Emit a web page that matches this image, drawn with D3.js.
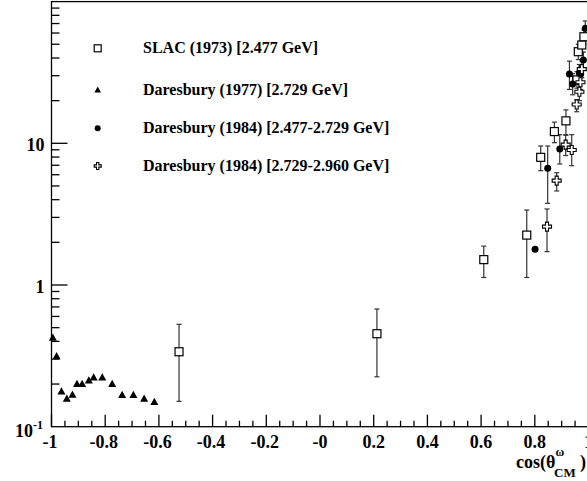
<!DOCTYPE html>
<html><head><meta charset="utf-8">
<script src="https://cdn.jsdelivr.net/npm/d3@7"></script>
<style>body{margin:0;background:#fff}svg{display:block}</style>
</head><body>
<svg id="c" width="587" height="481"></svg>
<script>
// [cos, value, low, high]
const slac1973 = [
  [-0.525, 0.338, 0.151, 0.528],
  [0.212, 0.453, 0.225, 0.677],
  [0.610, 1.51, 1.13, 1.88],
  [0.770, 2.25, 1.13, 3.38],
  [0.822, 7.96, 6.41, 9.57],
  [0.873, 12.1, 10.1, 14.1],
  [0.916, 14.4, 11.4, 17.2],
  [0.957, 28.0, 24.5, 32.0],
  [0.962, 44.3, 39.0, 50.0],
  [0.975, 49.4, 44.0, 56.0],
  [0.983, 56.5, 50.0, 63.0]
];
const daresbury1977 = [
  [-0.995, 0.428], [-0.981, 0.317], [-0.963, 0.179], [-0.943, 0.159],
  [-0.922, 0.170], [-0.905, 0.202], [-0.886, 0.202], [-0.861, 0.214],
  [-0.843, 0.225], [-0.811, 0.225], [-0.774, 0.202], [-0.737, 0.169],
  [-0.695, 0.169], [-0.655, 0.159], [-0.617, 0.151]
];
const daresbury1984a = [
  [0.801, 1.79, null, null],
  [0.848, 6.66, 3.77, 9.57],
  [0.893, 9.12, 7.14, 11.5],
  [0.929, 30.8, 24.0, 38.0],
  [0.941, 26.2, 22.0, 31.0],
  [0.966, 31.5, 27.0, 36.0],
  [0.971, 30.8, 27.0, 35.0],
  [0.981, 38.7, 34.0, 44.0],
  [0.988, 64.8, 57.0, 73.0]
];
const daresbury1984b = [
  [0.8455, 2.58, 1.72, 3.44],
  [0.8815, 5.45, 4.61, 6.20],
  [0.915, 9.78, 8.20, 11.5],
  [0.9375, 8.97, 6.95, 11.5],
  [0.956, 18.8, 16.7, 20.3],
  [0.966, 23.1, 20.0, 26.0],
  [0.970, 27.0, 24.0, 31.0],
  [0.975, 33.4, 29.0, 38.0]
];
const legendLabels = [
  "SLAC (1973) [2.477 GeV]",
  "Daresbury (1977) [2.729 GeV]",
  "Daresbury (1984) [2.477-2.729 GeV]",
  "Daresbury (1984) [2.729-2.960 GeV]"
];
const xTickValues = [-1, -0.8, -0.6, -0.4, -0.2, 0, 0.2, 0.4, 0.6, 0.8, 1];
const xTickLabels = ["-1", "-0.8", "-0.6", "-0.4", "-0.2", "-0", "0.2", "0.4", "0.6", "0.8", "1"];

const svg = d3.select("#c");
const FONT = "'Liberation Serif', 'Times New Roman', serif";
const L = 51.5, R = 588.5, T = 1.6, B = 426.7;
const x = d3.scaleLinear().domain([-1, 1]).range([L, R]);
const y = d3.scaleLog().domain([0.1, 100]).range([B, T]);

// frame
svg.append("rect").attr("x", L).attr("y", T).attr("width", R - L).attr("height", B - T)
  .attr("fill", "none").attr("stroke", "#000").attr("stroke-width", 1.3);

// x ticks (inward)
const xMinor = d3.range(-1, 1.0001, 0.05).map(v => +v.toFixed(2));
const gx = svg.append("g");
xMinor.forEach(v => {
  const major = Math.abs(v * 5 - Math.round(v * 5)) < 1e-6;
  gx.append("line").attr("x1", x(v)).attr("x2", x(v)).attr("y1", B).attr("y2", B - (major ? 12 : 6))
    .attr("stroke", "#000").attr("stroke-width", 1.3);
});
xTickValues.forEach((v, i) => {
  svg.append("text").attr("x", x(v) - (v < 0 ? 1.5 : 0)).attr("y", 447.5).attr("text-anchor", "middle")
    .attr("font-family", FONT).attr("font-weight", "bold").attr("font-size", 18)
    .text(xTickLabels[i]);
});

// y ticks (inward)
const gy = svg.append("g");
[0.1, 1, 10].forEach(dec => {
  for (let k = 1; k <= 9; k++) {
    const v = dec * k;
    if (v <= 0.1 + 1e-9) continue;
    const major = k === 1;
    gy.append("line").attr("x1", L).attr("x2", L + (major ? 16 : 8)).attr("y1", y(v)).attr("y2", y(v))
      .attr("stroke", "#000").attr("stroke-width", 1.3);
  }
});
const yl = (v, txt, dx, dy) => svg.append("text").attr("x", dx).attr("y", y(v) + dy)
  .attr("text-anchor", "end").attr("font-family", FONT).attr("font-weight", "bold").attr("font-size", 18).text(txt);
yl(10, "10", 44.5, 7.5);
yl(1, "1", 44.5, 7.5);
const t01 = svg.append("text").attr("x", 43).attr("y", y(0.1) + 10).attr("text-anchor", "end")
  .attr("font-family", FONT).attr("font-weight", "bold").attr("font-size", 18);
t01.append("tspan").text("10");
t01.append("tspan").attr("font-size", 12).attr("dy", -8).text("-1");

// axis title
const tfont = sel => sel.attr("font-family", FONT).attr("font-weight", "bold");
tfont(svg.append("text").attr("x", 516).attr("y", 468).attr("font-size", 18)).text("cos(θ");
tfont(svg.append("text").attr("x", 555.5).attr("y", 456).attr("font-size", 12)).text("ω");
tfont(svg.append("text").attr("x", 554).attr("y", 477).attr("font-size", 13)).text("CM");
tfont(svg.append("text").attr("x", 580).attr("y", 468).attr("font-size", 18)).text(")");

// markers
function marker(g, type, cx, cy, s) {
  if (type === "square") {
    g.append("rect").attr("x", cx - s / 2).attr("y", cy - s / 2).attr("width", s).attr("height", s)
      .attr("fill", "#fff").attr("stroke", "#000").attr("stroke-width", 1.2);
  } else if (type === "triangle") {
    const h = s * 0.9;
    g.append("path").attr("d", `M${cx},${cy - h / 2}L${cx + s / 2},${cy + h / 2}L${cx - s / 2},${cy + h / 2}Z`)
      .attr("fill", "#000");
  } else if (type === "circle") {
    g.append("circle").attr("cx", cx).attr("cy", cy).attr("r", s / 2).attr("fill", "#000");
  } else if (type === "cross") {
    const a = s / 2, b = s / 6;
    const p = [[-b, -a], [b, -a], [b, -b], [a, -b], [a, b], [b, b], [b, a], [-b, a], [-b, b], [-a, b], [-a, -b], [-b, -b]];
    g.append("path").attr("d", "M" + p.map(q => (cx + q[0]) + "," + (cy + q[1])).join("L") + "Z")
      .attr("fill", "#fff").attr("stroke", "#000").attr("stroke-width", 1.1);
  }
}
function errbars(g, data) {
  data.forEach(d => {
    if (d[2] == null) return;
    const cx = x(d[0]);
    g.append("line").attr("x1", cx).attr("x2", cx).attr("y1", y(d[2])).attr("y2", y(d[3]))
      .attr("stroke", "#333").attr("stroke-width", 1.2);
    [d[2], d[3]].forEach(v => g.append("line").attr("x1", cx - 2.5).attr("x2", cx + 2.5)
      .attr("y1", y(v)).attr("y2", y(v)).attr("stroke", "#333").attr("stroke-width", 1.2));
  });
}
const plot = svg.append("g");
errbars(plot, slac1973);
errbars(plot, daresbury1984a);
errbars(plot, daresbury1984b);
slac1973.forEach(d => marker(plot, "square", x(d[0]), y(d[1]), 8));
daresbury1977.forEach(d => marker(plot, "triangle", x(d[0]), y(d[1]), 8));
daresbury1984a.forEach(d => marker(plot, "circle", x(d[0]), y(d[1]), 7));
daresbury1984b.forEach(d => marker(plot, "cross", x(d[0]), y(d[1]), 9));

// legend
const types = ["square", "triangle", "circle", "cross"];
const lg = svg.append("g");
const rowsY = [48.3, 89.5, 128.3, 166];
const sizes = [7, 6.5, 6, 7];
legendLabels.forEach((lab, i) => {
  marker(lg, types[i], 97.7, rowsY[i], sizes[i]);
  lg.append("text").attr("x", 143).attr("y", rowsY[i] + 5).attr("font-family", FONT)
    .attr("font-weight", "bold").attr("font-size", 16).text(lab);
});
</script>
</body></html>
